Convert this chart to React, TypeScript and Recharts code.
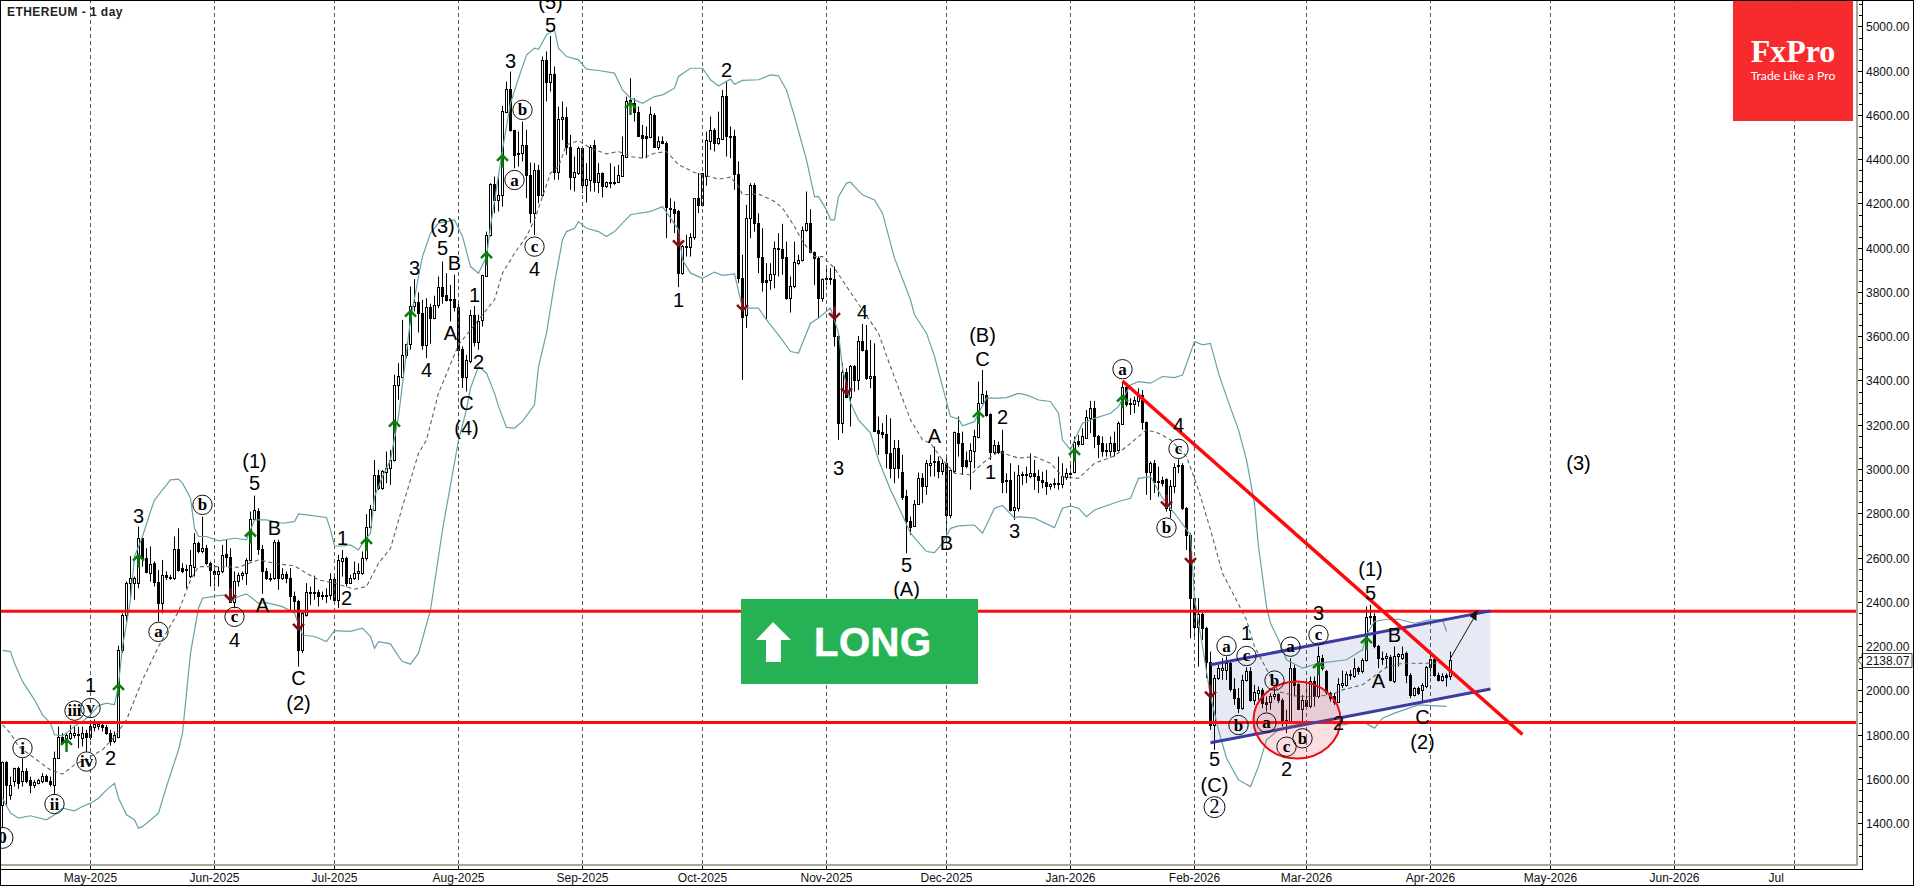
/**
 * ETHEREUM - 1 day, velas con Bollinger y conteo de ondas (recharts).
 * Eje X = un dia por banda (4 px), eje Y = USD.
 */
import {
  Area,
  Bar,
  ComposedChart,
  Line,
  ReferenceDot,
  ReferenceLine,
  XAxis,
  YAxis,
} from "recharts";

// Velas por mes: [open, high, low, close]
const apr25 = [[1482,1678,1377,1674],[1674,1680,1482,1573],[1528,1610,1505,1573],[1588,1650,1565,1648],[1648,1655,1555,1580],[1588,1693,1565,1636],[1636,1648,1580,1592],[1595,1610,1535,1570],[1570,1595,1558,1585],[1583,1600,1575,1595],[1592,1625,1580,1613],[1613,1620,1585,1592],[1592,1610,1565,1576],[1573,1723,1528,1693],[1693,1836,1690,1791],[1791,1806,1753,1761],[1768,1806,1750,1799],[1784,1844,1776,1806],[1800,1836,1784,1806],[1802,1836,1738,1799],[1784,1836,1746,1806],[1809,1821,1723,1791]];
const may25 = [[1791,1866,1776,1839],[1836,1869,1814,1847],[1839,1859,1821,1847],[1842,1851,1814,1833],[1836,1844,1799,1806],[1806,1821,1749,1773],[1770,1814,1761,1799],[1791,2201,1784,2183],[2183,2348,2168,2341],[2341,2491,2311,2487],[2487,2607,2409,2506],[2484,2514,2409,2506],[2484,2740,2461,2687],[2687,2690,2559,2597],[2597,2642,2529,2534],[2532,2650,2491,2571],[2574,2582,2469,2488],[2488,2544,2311,2394],[2394,2589,2348,2522],[2522,2537,2499,2511],[2514,2522,2499,2509],[2506,2695,2499,2637],[2637,2732,2537,2544],[2552,2574,2529,2541],[2547,2567,2461,2544],[2517,2634,2506,2567],[2559,2710,2514,2665],[2665,2672,2619,2631],[2631,2785,2619,2642],[2642,2657,2567,2574],[2574,2582,2469,2544]];
const jun25 = [[2540,2567,2469,2525],[2525,2559,2469,2540],[2537,2657,2529,2612],[2615,2680,2559,2601],[2601,2642,2394,2401],[2397,2537,2371,2496],[2496,2532,2469,2522],[2522,2537,2499,2529],[2529,2597,2476,2589],[2589,2808,2582,2773],[2773,2880,2770,2815],[2812,2823,2612,2637],[2637,2657,2436,2541],[2541,2552,2499,2506],[2506,2529,2491,2502],[2506,2680,2499,2672],[2672,2680,2454,2506],[2506,2552,2499,2526],[2526,2537,2484,2506],[2506,2552,2363,2424],[2424,2446,2363,2403],[2403,2409,2107,2183],[2183,2356,2168,2348],[2341,2484,2333,2446],[2446,2469,2386,2439],[2442,2518,2409,2439],[2442,2454,2379,2424],[2430,2446,2409,2427],[2431,2461,2394,2427],[2430,2529,2409,2502]];
const jul25 = [[2502,2522,2394,2409],[2409,2612,2371,2589],[2586,2634,2514,2597],[2597,2604,2469,2484],[2487,2522,2481,2506],[2506,2582,2499,2529],[2529,2574,2499,2541],[2529,2627,2522,2597],[2597,2796,2586,2737],[2737,2838,2732,2818],[2815,3041,2812,2973],[2973,2996,2906,2913],[2913,2996,2906,2991],[2988,3079,2936,3003],[3003,3086,2928,3041],[3042,3426,3034,3381],[3381,3478,3313,3421],[3418,3674,3411,3516],[3513,3566,3501,3564],[3564,3825,3539,3737],[3735,3858,3712,3754],[3754,3798,3617,3704],[3704,3765,3539,3561],[3561,3772,3501,3731],[3731,3747,3566,3682],[3682,3783,3677,3742],[3739,3870,3727,3822],[3822,3938,3747,3783],[3787,3885,3757,3762],[3768,3832,3667,3762],[3768,3878,3712,3731]];
const aug25 = [[3731,3757,3486,3539],[3543,3554,3366,3418],[3418,3516,3350,3491],[3486,3719,3478,3697],[3697,3737,3554,3572],[3576,3697,3539,3671],[3674,3878,3644,3875],[3870,4073,3870,4058],[4058,4292,4051,4289],[4289,4322,4156,4216],[4216,4329,4164,4239],[4239,4641,4186,4619],[4615,4751,4608,4718],[4718,4796,4525,4533],[4533,4533,4359,4420],[4427,4525,4367,4423],[4427,4570,4390,4465],[4465,4533,4224,4329],[4329,4385,4111,4156],[4156,4382,4058,4352],[4352,4375,4201,4239],[4239,4864,4231,4849],[4849,4887,4661,4747],[4747,4957,4706,4786],[4786,4819,4307,4344],[4344,4638,4307,4581],[4581,4661,4487,4593],[4590,4635,4420,4454],[4454,4510,4262,4319],[4319,4412,4254,4340],[4337,4457,4329,4450]];
const sep25 = [[4450,4457,4247,4284],[4284,4382,4204,4310],[4307,4465,4254,4457],[4465,4487,4254,4299],[4299,4382,4247,4337],[4337,4340,4227,4277],[4280,4299,4269,4296],[4292,4382,4269,4298],[4299,4367,4284,4296],[4299,4375,4292,4329],[4326,4503,4322,4417],[4412,4683,4412,4665],[4668,4766,4638,4653],[4653,4676,4570,4615],[4615,4638,4503,4506],[4510,4555,4405,4495],[4503,4548,4405,4495],[4500,4638,4495,4603],[4600,4608,4450,4454],[4453,4503,4442,4483],[4483,4503,4472,4475],[4475,4480,4043,4183],[4180,4224,4111,4174],[4174,4209,4066,4159],[4164,4171,3822,3885],[3885,4013,3878,4009],[4009,4058,3960,4003],[4003,4066,3960,4048],[4048,4224,4036,4224],[4224,4337,4156,4191]];
const oct25 = [[4191,4337,4186,4337],[4326,4525,4280,4487],[4484,4593,4442,4533],[4533,4540,4435,4472],[4472,4615,4465,4495],[4492,4713,4487,4686],[4686,4754,4412,4503],[4506,4548,4405,4501],[4506,4533,4262,4332],[4332,4390,3840,3862],[3862,3968,3403,3689],[3697,4194,3637,4134],[4134,4292,4043,4284],[4284,4292,4073,4114],[4114,4156,3885,3957],[3957,4088,3802,3847],[3855,3930,3674,3847],[3852,3930,3810,3881],[3881,4028,3817,3998],[3998,4066,3870,3994],[3994,4108,3878,3953],[3956,4028,3765,3775],[3775,3870,3707,3828],[3825,4028,3817,3935],[3933,3968,3923,3945],[3945,4096,3938,4081],[4078,4254,4073,4111],[4111,4174,3975,3980],[3980,3983,3832,3953],[3953,3960,3682,3772],[3772,3862,3757,3858]];
const nov25 = [[3862,3915,3832,3858],[3862,3908,3832,3858],[3858,3915,3554,3599],[3602,3606,3132,3210],[3210,3478,3162,3440],[3440,3455,3320,3327],[3324,3470,3192,3466],[3466,3470,3350,3403],[3400,3601,3357,3579],[3579,3656,3531,3538],[3538,3651,3403,3413],[3410,3583,3365,3421],[3421,3568,3169,3174],[3177,3237,3064,3165],[3168,3207,3139,3157],[3159,3244,3003,3071],[3071,3229,2958,3006],[3006,3131,2936,3094],[3094,3131,2958,3003],[2988,3064,2860,2875],[2878,2906,2619,2763],[2763,2785,2702,2740],[2743,2860,2740,2842],[2842,2984,2838,2958],[2958,2981,2845,2925],[2925,3041,2883,3026],[3019,3064,2966,3029],[3037,3101,2966,3031],[3035,3056,2958,2990],[2990,3044,2973,3026]];
const dec25 = [[3026,3049,2717,2790],[2790,2996,2778,2996],[2993,3169,2981,3165],[3165,3237,3056,3119],[3119,3169,2973,3015],[3041,3079,3003,3015],[3038,3116,2906,3086],[3083,3177,3003,3147],[3144,3395,3139,3297],[3297,3448,3297,3338],[3335,3354,3237,3244],[3249,3252,3041,3079],[3076,3131,3064,3109],[3109,3124,3068,3079],[3083,3177,2891,2943],[2949,2981,2891,2946],[2949,3026,2808,2815],[2815,2988,2770,2827],[2823,3018,2808,2973],[2976,2988,2928,2972],[2978,3011,2936,2973],[2969,3071,2958,2984],[2984,3041,2906,2970],[2970,2996,2891,2949],[2951,2988,2913,2943],[2943,2996,2883,2921],[2921,2936,2906,2931],[2933,2958,2913,2936],[2937,3056,2906,2934],[2933,3026,2913,2969],[2966,3003,2951,2981]];
const jan26 = [[2984,3026,2966,2981],[2985,3147,2981,3124],[3127,3154,3101,3113],[3113,3184,3109,3147],[3142,3267,3139,3234],[3229,3308,3162,3275],[3275,3308,3094,3147],[3150,3154,3049,3113],[3116,3147,3056,3083],[3086,3116,3056,3082],[3083,3147,3056,3116],[3116,3169,3056,3083],[3086,3214,3079,3207],[3204,3388,3199,3369],[3369,3380,3282,3294],[3297,3320,3244,3293],[3294,3327,3252,3312],[3309,3365,3282,3335],[3335,3357,3177,3211],[3211,3214,2883,2985],[2985,3034,2860,3029],[3029,3041,2891,2943],[2948,3011,2875,2943],[2951,2966,2921,2939],[2955,2958,2808,2823],[2815,2951,2778,2925],[2924,3026,2891,3011],[3015,3044,2981,3018],[3018,3026,2815,2823],[2823,2827,2634,2702],[2702,2710,2235,2416]];
const feb26 = [[2416,2424,2235,2288],[2288,2416,2107,2344],[2344,2351,2228,2281],[2281,2288,2055,2126],[2126,2175,1821,1844],[1844,2070,1731,2055],[2055,2115,2047,2100],[2092,2145,2047,2103],[2092,2153,2047,2122],[2122,2130,1994,2005],[2005,2055,1934,1964],[1967,2010,1897,1922],[1919,2070,1912,2047],[2047,2104,2040,2088],[2088,2104,1949,1957],[1954,2025,1934,1994],[1990,2017,1957,2002],[2002,2010,1919,1942],[1949,1972,1904,1939],[1945,1987,1912,1975],[1972,2017,1957,1984],[1982,1987,1942,1954],[1954,1964,1836,1859],[1864,1912,1806,1859],[1862,2145,1851,2100],[2103,2115,1972,2025],[2028,2032,1912,1915],[1915,1979,1859,1957]];
const mar26 = [[1957,2032,1919,1927],[1927,2062,1919,2040],[2040,2062,1927,1972],[1972,2198,1964,2153],[2148,2160,2089,2100],[2085,2092,1979,1994],[1987,1994,1949,1967],[1975,1987,1934,1949],[1946,2055,1942,2028],[2025,2089,2010,2032],[2025,2085,2017,2073],[2073,2092,2047,2067],[2065,2145,2055,2100],[2100,2107,2070,2085],[2085,2145,2077,2138],[2138,2379,2130,2333],[2330,2386,2296,2338],[2336,2348,2190,2198],[2198,2205,2100,2145],[2148,2175,2115,2145],[2145,2168,2100,2153],[2150,2160,2040,2047],[2044,2198,2032,2156],[2153,2168,2107,2163],[2145,2198,2138,2163],[2168,2175,2032,2070],[2070,2077,1964,1980],[1980,2014,1972,2010],[2010,2017,1979,1987],[2002,2032,1942,2025],[2020,2110,2010,2104]];
const apr26 = [[2104,2168,2062,2141],[2141,2160,2062,2070],[2070,2080,2040,2047],[2047,2077,2040,2065],[2070,2077,2017,2062],[2065,2175,2047,2138]];

// Bandas de Bollinger: [dia desde 2025-05-01, valor]
const upperBand = [[-22,2180],[-20,2175],[-19,2122],[-17,2040],[-14,1957],[-12,1889],[-10,1851],[-9,1799],[-7,1794],[-5,1821],[-4,1839],[-2,1859],[0,1889],[2,1931],[4,1942],[6,1934],[7,2025],[8,2198],[9,2300],[10,2410],[11,2604],[13,2695],[15,2808],[16,2860],[18,2906],[20,2951],[22,2954],[23,2936],[25,2868],[26,2732],[27,2695],[29,2695],[32,2675],[36,2687],[39,2680],[41,2770],[44,2770],[48,2755],[51,2762],[52,2797],[54,2793],[59,2781],[60,2725],[61,2652],[63,2652],[65,2657],[67,2634],[68,2665],[70,2710],[71,2875],[73,2966],[75,3041],[77,3238],[80,3674],[82,3870],[83,3960],[85,4066],[87,4111],[91,4126],[93,4051],[95,3915],[97,3885],[99,3960],[100,4096],[103,4442],[105,4653],[107,4766],[109,4871],[111,4902],[112,4897],[114,4962],[116,4984],[117,4902],[119,4864],[122,4849],[124,4807],[127,4801],[131,4789],[133,4713],[135,4676],[138,4653],[141,4683],[143,4691],[146,4721],[147,4774],[150,4811],[153,4811],[155,4759],[157,4731],[160,4762],[161,4739],[163,4756],[167,4759],[170,4781],[172,4777],[174,4713],[176,4593],[179,4397],[181,4231],[182,4231],[184,4171],[185,4126],[186,4126],[187,4231],[189,4292],[190,4296],[193,4239],[196,4216],[198,4156],[201,3953],[205,3765],[206,3697],[209,3614],[211,3509],[215,3237],[217,3226],[218,3195],[221,3214],[222,3252],[224,3320],[227,3320],[229,3323],[232,3342],[234,3335],[237,3312],[240,3305],[242,3252],[243,3131],[245,3086],[246,3131],[248,3207],[251,3229],[255,3252],[257,3282],[260,3380],[262,3395],[265,3388],[268,3418],[271,3413],[273,3425],[276,3576],[278,3561],[280,3568],[282,3433],[284,3327],[287,3177],[289,3041],[291,2845],[292,2650],[294,2378],[295,2303],[297,2228],[299,2138],[303,2100],[307,2122],[314,2138],[318,2183],[319,2250],[321,2311],[324,2321],[327,2321],[331,2303],[335,2318],[338,2318],[339,2266]];
const lowerBand = [[-22,1512],[-20,1445],[-18,1422],[-15,1433],[-11,1415],[-9,1437],[-7,1467],[-4,1455],[-2,1475],[0,1490],[2,1512],[4,1550],[6,1580],[7,1512],[9,1437],[11,1415],[12,1377],[13,1384],[17,1445],[19,1565],[22,1731],[23,1806],[25,2168],[27,2371],[28,2416],[32,2428],[34,2431],[35,2401],[37,2424],[39,2436],[42,2393],[44,2396],[48,2378],[51,2348],[53,2250],[56,2243],[59,2220],[61,2270],[65,2266],[68,2281],[70,2243],[71,2190],[72,2220],[75,2210],[77,2153],[78,2130],[80,2118],[82,2168],[85,2363],[88,2725],[92,3131],[94,3268],[95,3366],[97,3463],[99,3433],[101,3343],[102,3283],[104,3188],[106,3185],[108,3215],[111,3290],[112,3463],[114,3614],[116,3840],[118,4036],[119,4073],[121,4088],[122,4118],[124,4088],[127,4073],[129,4051],[131,4073],[133,4111],[135,4149],[140,4164],[143,4186],[145,4134],[147,4081],[148,3945],[150,3885],[153,3862],[156,3890],[158,3875],[161,3882],[163,3727],[167,3727],[169,3674],[172,3606],[175,3531],[177,3524],[180,3659],[182,3682],[185,3727],[187,3614],[188,3456],[190,3298],[192,3222],[195,3162],[197,3041],[200,2906],[202,2830],[205,2710],[209,2627],[211,2622],[213,2665],[215,2732],[217,2743],[221,2747],[223,2710],[226,2823],[228,2835],[231,2778],[232,2785],[236,2778],[241,2735],[243,2823],[245,2833],[247,2823],[249,2785],[251,2815],[257,2853],[260,2868],[262,2958],[265,2966],[268,2868],[271,2800],[275,2702],[276,2416],[278,2198],[280,1972],[282,1821],[284,1693],[287,1595],[290,1565],[292,1656],[294,1776],[297,1821],[299,1836],[304,1851],[307,1859],[313,1844],[318,1859],[321,1829],[323,1874],[326,1897],[332,1934],[339,1927]];
const middleBand = [[-22,1844],[-20,1806],[-18,1746],[-14,1693],[-10,1640],[-7,1621],[-4,1663],[0,1701],[3,1731],[6,1791],[9,1866],[13,2047],[17,2198],[22,2356],[25,2499],[27,2559],[32,2559],[37,2556],[42,2589],[47,2571],[51,2562],[54,2529],[57,2499],[61,2484],[66,2457],[69,2469],[72,2574],[75,2642],[78,2830],[82,3071],[84,3131],[87,3343],[92,3561],[97,3674],[98,3697],[101,3765],[103,3885],[106,3975],[109,4051],[111,4126],[113,4231],[115,4337],[117,4367],[119,4465],[122,4484],[125,4450],[129,4424],[132,4435],[135,4412],[138,4405],[141,4427],[144,4435],[147,4375],[151,4340],[154,4325],[157,4310],[160,4319],[162,4277],[163,4239],[167,4243],[171,4209],[173,4179],[176,4096],[178,4028],[181,3960],[183,3960],[186,3908],[189,3825],[193,3719],[197,3614],[200,3463],[205,3222],[208,3132],[210,3116],[213,3041],[216,2981],[220,2973],[223,3026],[227,3079],[232,3049],[236,3056],[240,3026],[243,2966],[247,2958],[251,3026],[256,3059],[260,3116],[264,3177],[267,3162],[270,3132],[274,3056],[277,2906],[280,2725],[283,2529],[286,2424],[289,2318],[291,2198],[295,2062],[297,1994],[302,1972],[306,1972],[310,1979],[313,2002],[318,2025],[324,2104],[328,2122],[333,2122],[338,2122]];

// Flechas de senal: [dia, precio]
const upSignals = [[-6,1753],[7,2002],[12,2586],[40,2695],[69,2662],[76,3192],[80,3689],[99,3953],[103,4393],[135,4631],[222,3234],[246,3064],[258,3305],[307,2100],[319,2213]];
const downSignals = [[35,2431],[52,2300],[147,4033],[163,3742],[186,3704],[189,3365],[269,2853],[275,2597],[280,1994]];

// Conteo de ondas: [texto, dia, precio]
const waveLabels = [["1",0,2024],["2",5,1694],["3",12,2788],["4",36,2228],["(1)",41,3038],["5",41,2937],["A",43,2386],["B",46,2734],["C",52,2057],["(2)",52,1944],["1",63,2690],["2",64,2419],["3",81,3910],["(3)",88,4100],["5",88,3998],["B",91,3930],["4",84,3448],["A",90,3616],["1",96,3787],["2",97,3485],["C",94,3300],["(4)",94,3187],["(5)",115,5111],["5",115,5007],["3",105,4844],["4",111,3903],["2",159,4803],["1",147,3764],["4",193,3711],["A",211,3151],["3",187,3003],["5",204,2567],["(A)",204,2457],["B",214,2665],["(B)",223,3606],["C",223,3497],["2",228,3234],["1",225,2988],["3",231,2720],["4",272,3199],["1",289,2261],["2",299,1643],["3",307,2351],["2",312,1851],["(1)",320,2547],["5",320,2439],["B",326,2250],["A",322,2044],["C",333,1881],["(2)",333,1765],["5",281,1688],["(C)",281,1572],["(3)",372,3027]];
const circledLabels = [["iii",-4,1908],["v",0,1920],["i",-17,1739],["ii",-9,1486],["iv",-1,1678],["0",-22,1333],["a",17,2264],["b",28,2838],["c",36,2332],["b",108,4623],["a",106,4306],["c",111,4005],["a",258,3451],["c",272,3091],["b",269,2735],["a",284,2200],["c",289,2155],["b",296,2044],["b",287,1843],["a",294,1854],["c",299,1745],["b",303,1783],["a",300,2197],["c",307,2250],["2",281,1472]];

// Niveles y eje
const supportLevel = 1854;
const resistanceLevel = 2357;
const lastPrice = 2138.07;
const monthStarts = ["2025-05-01","2025-06-01","2025-07-01","2025-08-01","2025-09-01","2025-10-01","2025-11-01","2025-12-01","2026-01-01","2026-02-01","2026-03-01","2026-04-01","2026-05-01","2026-06-01","2026-07-01"];
const monthLabels = ["May-2025","Jun-2025","Jul-2025","Aug-2025","Sep-2025","Oct-2025","Nov-2025","Dec-2025","Jan-2026","Feb-2026","Mar-2026","Apr-2026","May-2026","Jun-2026","Jul"];

const FIRST_DAY = -22;
const DAY_COUNT = 464;
const AXIS_X = 1862;
const SANS = "'Liberation Sans', Arial, sans-serif";
const SERIF = "'Liberation Serif', 'Times New Roman', serif";

function dateOf(day: number): string {
  return new Date(Date.UTC(2025, 4, 1 + day)).toISOString().slice(0, 10);
}

const candles = [...apr25, ...may25, ...jun25, ...jul25, ...aug25, ...sep25, ...oct25, ...nov25, ...dec25, ...jan26, ...feb26, ...mar26, ...apr26];

// Una fila por dia, tambien los dias futuros sin vela
const rows: Record<string, any>[] = Array.from({ length: DAY_COUNT }, (_, i) => {
  const c = candles[i];
  const row: Record<string, any> = { date: dateOf(FIRST_DAY + i) };
  if (c) {
    row.open = c[0];
    row.high = c[1];
    row.low = c[2];
    row.close = c[3];
    row.range = [c[2], c[1]];
  }
  return row;
});
const put = (list: number[][], key: string) => {
  for (const [day, value] of list) rows[day - FIRST_DAY][key] = value;
};
put(upperBand, "upper");
put(lowerBand, "lower");
put(middleBand, "middle");
put(upSignals, "up");
put(downSignals, "down");
rows[280 - FIRST_DAY].channel = [1763, 2115];
rows[350 - FIRST_DAY].channel = [2006, 2359];

const yTicks: number[] = [lastPrice];
for (let v = 1250; v <= 5100; v += 50) yTicks.push(v);

function Candle(props: any) {
  const { x, y, width, height, payload } = props;
  if (payload.high == null) return null;
  const cx = x + width / 2;
  const perUnit = height / (payload.high - payload.low);
  const at = (v: number) => y + (payload.high - v) * perUnit;
  const up = payload.close >= payload.open;
  const top = Math.round(at(Math.max(payload.open, payload.close))) + 0.5;
  const bottom = Math.round(at(Math.min(payload.open, payload.close))) + 0.5;
  return (
    <g>
      <line x1={cx} x2={cx} y1={y} y2={y + height} stroke="#000" />
      <rect x={cx - 1} y={top} width={2} height={Math.max(bottom - top, 1)} fill={up ? "#fff" : "#000"} stroke="#000" />
    </g>
  );
}

function signalDot(color: string, dir: 1 | -1) {
  return (props: any) => {
    const { cx, cy, key, value } = props;
    if (cy == null || value == null) return <g key={key} />;
    return (
      <g key={key} stroke={color} strokeWidth={2.5} fill="none">
        <line x1={cx} x2={cx} y1={cy - 5 * dir} y2={cy + 7 * dir} />
        <polyline points={`${cx - 5.5},${cy} ${cx},${cy - 5.5 * dir} ${cx + 5.5},${cy}`} />
      </g>
    );
  };
}

function MonthTick(props: any) {
  const { x, payload } = props;
  const label = monthLabels[monthStarts.indexOf(payload.value)];
  // "Jul" queda cortado: arranca donde empezaria "Jul-2026"
  const short = label === "Jul";
  return (
    <g>
      <line x1={x} x2={x} y1={864} y2={869} stroke="#000" />
      <text x={short ? x - 26 : x} y={881.5} textAnchor={short ? "start" : "middle"} fontFamily={SANS} fontSize={12} fill="#111">
        {label}
      </text>
    </g>
  );
}

function PriceTick(props: any) {
  const { y, payload } = props;
  const v = payload.value;
  const py = Math.round(y) + 0.5;
  if (v === lastPrice) {
    return (
      <g>
        <path
          d={`M${AXIS_X} ${py - 7}H1912V${py + 7}H${AXIS_X}V${py + 4}L1857.5 ${py}L${AXIS_X} ${py - 4}Z`}
          fill="#fff"
          stroke="#444"
        />
        <text x={1866} y={py + 4.5} fontFamily={SANS} fontSize={12} fill="#111">
          {v.toFixed(2)}
        </text>
      </g>
    );
  }
  const major = v % 200 === 0;
  return (
    <g>
      <line x1={major ? 1857 : 1859} x2={AXIS_X} y1={py} y2={py} stroke="#000" />
      {major && (
        <text x={1866} y={py + 4.5} fontFamily={SANS} fontSize={12} fill="#111">
          {v.toFixed(2)}
        </text>
      )}
    </g>
  );
}

const hline = (style: Record<string, any>) => <div style={{ position: "absolute", ...style }} />;

export default function App() {
  return (
    <div style={{ position: "absolute", left: 0, top: 0, width: 1914, height: 886, background: "#fff", overflow: "hidden" }}>
      <ComposedChart
        width={1914}
        height={886}
        data={rows}
        margin={{ top: 1, right: 0, bottom: 0, left: 0.5 }}
        barCategoryGap={0}
      >
        <XAxis
          dataKey="date"
          ticks={monthStarts}
          interval={0}
          height={22}
          axisLine={false}
          tickLine={false}
          tick={<MonthTick />}
        />
        <YAxis
          orientation="right"
          width={57.5}
          domain={[1215, 5115]}
          ticks={yTicks}
          interval={0}
          allowDataOverflow
          axisLine={false}
          tickLine={false}
          tick={<PriceTick />}
        />
        {monthStarts.map((m) => (
          <ReferenceLine key={m} x={m} stroke="#555" strokeDasharray="4 3" />
        ))}
        <Area dataKey="channel" type="linear" connectNulls stroke="none" fill="#E7E9F5" fillOpacity={1} isAnimationActive={false} dot={false} activeDot={false} />
        <Line dataKey="upper" type="linear" connectNulls stroke="#65A3A9" strokeWidth={1.2} dot={false} activeDot={false} isAnimationActive={false} />
        <Line dataKey="lower" type="linear" connectNulls stroke="#65A3A9" strokeWidth={1.2} dot={false} activeDot={false} isAnimationActive={false} />
        <Line dataKey="middle" type="linear" connectNulls stroke="#4A6A70" strokeWidth={1.1} strokeDasharray="4 3" dot={false} activeDot={false} isAnimationActive={false} />
        <Bar dataKey="range" shape={<Candle />} isAnimationActive={false} />
        <Line dataKey="up" stroke="none" dot={signalDot("#0B7E0B", 1)} activeDot={false} isAnimationActive={false} />
        <Line dataKey="down" stroke="none" dot={signalDot("#7E0F12", -1)} activeDot={false} isAnimationActive={false} />

        <ReferenceDot
          x={dateOf(302)}
          y={1866}
          ifOverflow="visible"
          shape={(p: any) => <ellipse cx={p.cx - 1.5} cy={p.cy} rx={43.5} ry={38.5} fill="#E8474C" fillOpacity={0.18} stroke="#F00A12" strokeWidth={2} />}
        />
        {waveLabels.map(([t, d, p], i) => (
          <ReferenceDot
            key={`w${i}`}
            x={dateOf(d as number)}
            y={p as number}
            ifOverflow="visible"
            shape={(s: any) => (
              <text x={s.cx} y={s.cy + 7} textAnchor="middle" fontFamily={SANS} fontSize={20} fill="#000">
                {t}
              </text>
            )}
          />
        ))}
        {circledLabels.map(([t, d, p], i) => (
          <ReferenceDot
            key={`c${i}`}
            x={dateOf(d as number)}
            y={p as number}
            ifOverflow="visible"
            shape={(s: any) => (
              <g>
                <circle cx={s.cx} cy={s.cy} r={t === "2" || t === "0" ? 10.5 : 9.7} fill="none" stroke="#111" />
                <text x={s.cx} y={s.cy + 5.5} textAnchor="middle" fontFamily={SERIF} fontWeight={t === "2" ? "normal" : "bold"} fontSize={t === "2" ? 20 : 17} fill="#000">
                  {t}
                </text>
              </g>
            )}
          />
        ))}

        <ReferenceLine y={resistanceLevel} stroke="#FF0A0A" strokeWidth={3} />
        <ReferenceLine y={supportLevel} stroke="#FF0A0A" strokeWidth={3} />
        <ReferenceLine segment={[{ x: dateOf(280), y: 2115 }, { x: dateOf(350), y: 2359 }]} stroke="#3B3BA3" strokeWidth={3} ifOverflow="visible" />
        <ReferenceLine segment={[{ x: dateOf(280), y: 1763 }, { x: dateOf(350), y: 2006 }]} stroke="#3B3BA3" strokeWidth={3} ifOverflow="visible" />
        <ReferenceLine segment={[{ x: dateOf(258), y: 3398 }, { x: dateOf(358), y: 1800 }]} stroke="#FF0A0A" strokeWidth={3.5} ifOverflow="visible" />
        <ReferenceLine segment={[{ x: dateOf(340), y: 2145 }, { x: dateOf(347), y: 2363 }]} stroke="#111" strokeWidth={1} ifOverflow="visible" />
        <ReferenceDot
          x={dateOf(347)}
          y={2363}
          ifOverflow="visible"
          shape={(p: any) => <polygon points={`${p.cx - 2},${p.cy} ${p.cx - 9},${p.cy + 6} ${p.cx - 2},${p.cy + 11}`} fill="#111" />}
        />
      </ComposedChart>

      {/* Marco de la plataforma */}
      {hline({ left: 0, top: 0, width: 1914, height: 1, background: "#000" })}
      {hline({ left: 0, top: 0, width: 1, height: 886, background: "#000" })}
      {hline({ left: 1913, top: 0, width: 1, height: 886, background: "#000" })}
      {hline({ left: 0, top: 885, width: 1914, height: 1, background: "#000" })}
      {hline({ left: 1, top: 864, width: 1857, height: 2, background: "#A9A99A" })}
      {hline({ left: 1856, top: 1, width: 2, height: 865, background: "#A9A99A" })}
      {hline({ left: 1, top: 869, width: 1862, height: 1, background: "#000" })}
      {hline({ left: 1862, top: 1, width: 1, height: 869, background: "#000" })}

      <div style={{ position: "absolute", left: 7, top: 5, fontFamily: SANS, fontWeight: "bold", fontSize: 12, letterSpacing: 0.45, color: "#222", whiteSpace: "nowrap" }}>
        ETHEREUM - 1 day
      </div>

      <div style={{ position: "absolute", left: 741, top: 599, width: 237, height: 85, background: "#27B155" }}>
        <svg width={237} height={85} style={{ position: "absolute", left: 0, top: 0 }}>
          <polygon points="32,23 50,41 40,41 40,63 25,63 25,41 15,41" fill="#fff" />
          <text x={73} y={57} fontFamily={SANS} fontWeight="bold" fontSize={40} letterSpacing={0.5} fill="#fff" stroke="#fff" strokeWidth={0.6}>
            LONG
          </text>
        </svg>
      </div>

      <div style={{ position: "absolute", left: 1733, top: 1, width: 120, height: 120, background: "rgba(247,30,32,0.94)", color: "#fff", textAlign: "center" }}>
        <div style={{ position: "absolute", left: 0, right: 0, top: 32, fontFamily: SERIF, fontWeight: "bold", fontSize: 32, lineHeight: "36px" }}>FxPro</div>
        <div style={{ position: "absolute", left: 0, right: 0, top: 68, fontFamily: "Lato, sans-serif", fontSize: 12.2, lineHeight: "14px" }}>Trade Like a Pro</div>
      </div>
    </div>
  );
}
